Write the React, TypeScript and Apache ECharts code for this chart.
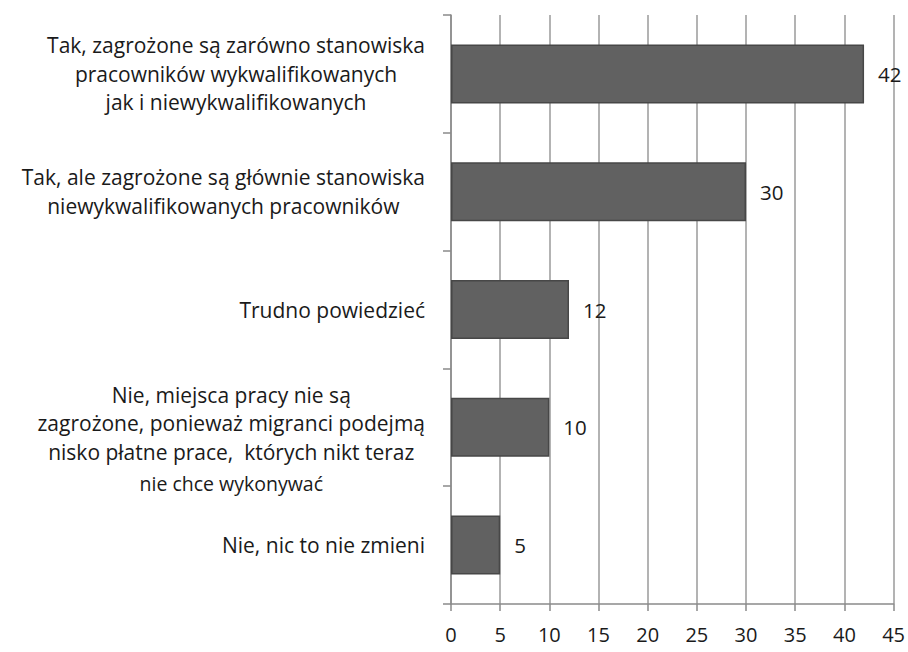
import React, { useEffect, useRef } from "react";
import * as echarts from "echarts";

const categories = [
  "Tak, zagrożone są zarówno stanowiska\npracowników wykwalifikowanych\njak i niewykwalifikowanych",
  "Tak, ale zagrożone są głównie stanowiska\nniewykwalifikowanych pracowników",
  "Trudno powiedzieć",
  "Nie, miejsca pracy nie są\nzagrożone, ponieważ migranci podejmą\nnisko płatne prace,  których nikt teraz\nnie chce wykonywać",
  "Nie, nic to nie zmieni",
];
const values = [42, 30, 12, 10, 5];
const smallLines = ["nie chce wykonywać"];

const FONT = "Open Sans";

export default function App() {
  const ref = useRef<HTMLDivElement>(null);
  useEffect(() => {
    if (!ref.current) return;
    const chart = echarts.init(ref.current, undefined, { renderer: "svg" });
    const yData = categories.map((c) =>
      c.split("\n").length === 4
        ? { value: c, textStyle: { padding: [26, 0, 0, 0] } }
        : c
    );
    chart.setOption({
      animation: false,
      backgroundColor: "#ffffff",
      grid: { left: 451, right: 13, top: 15, bottom: 48, containLabel: false },
      xAxis: {
        type: "value",
        min: 0,
        max: 45,
        interval: 5,
        axisLine: { show: true, lineStyle: { color: "#8a8a8a", width: 1.5 } },
        axisTick: { show: true, length: 7, lineStyle: { color: "#8a8a8a", width: 1.5 } },
        splitLine: { show: true, lineStyle: { color: "#9a9a9a", width: 1.5 } },
        axisLabel: { color: "#1a1a1a", fontFamily: FONT, fontSize: 20, margin: 20 },
      },
      yAxis: {
        type: "category",
        inverse: true,
        data: yData,
        axisLine: { show: true, lineStyle: { color: "#8a8a8a", width: 1.5 } },
        axisTick: { show: true, length: 8, lineStyle: { color: "#8a8a8a", width: 1.5 } },
        axisLabel: {
          margin: 26,
          align: "right",
          formatter: (v: string) =>
            v
              .split("\n")
              .map((l) => (smallLines.includes(l) ? `{s|${l}}` : `{n|${l}}`))
              .join("\n"),
          rich: {
            n: { fontFamily: FONT, fontSize: 21, color: "#1a1a1a", lineHeight: 28.5, align: "center" },
            s: { fontFamily: FONT, fontSize: 19.5, color: "#1a1a1a", lineHeight: 34, align: "center" },
          },
        },
      },
      series: [
        {
          type: "bar",
          data: values,
          barWidth: 59,
          itemStyle: { color: "#616161", borderColor: "#474747", borderWidth: 1.5 },
          label: {
            show: true,
            position: "right",
            distance: 14,
            color: "#1a1a1a",
            fontFamily: FONT,
            fontSize: 20.5,
          },
        },
      ],
    });
    return () => chart.dispose();
  }, []);
  return (
    <div
      ref={ref}
      style={{ position: "absolute", left: 0, top: 0, width: 908, height: 652 }}
    />
  );
}
